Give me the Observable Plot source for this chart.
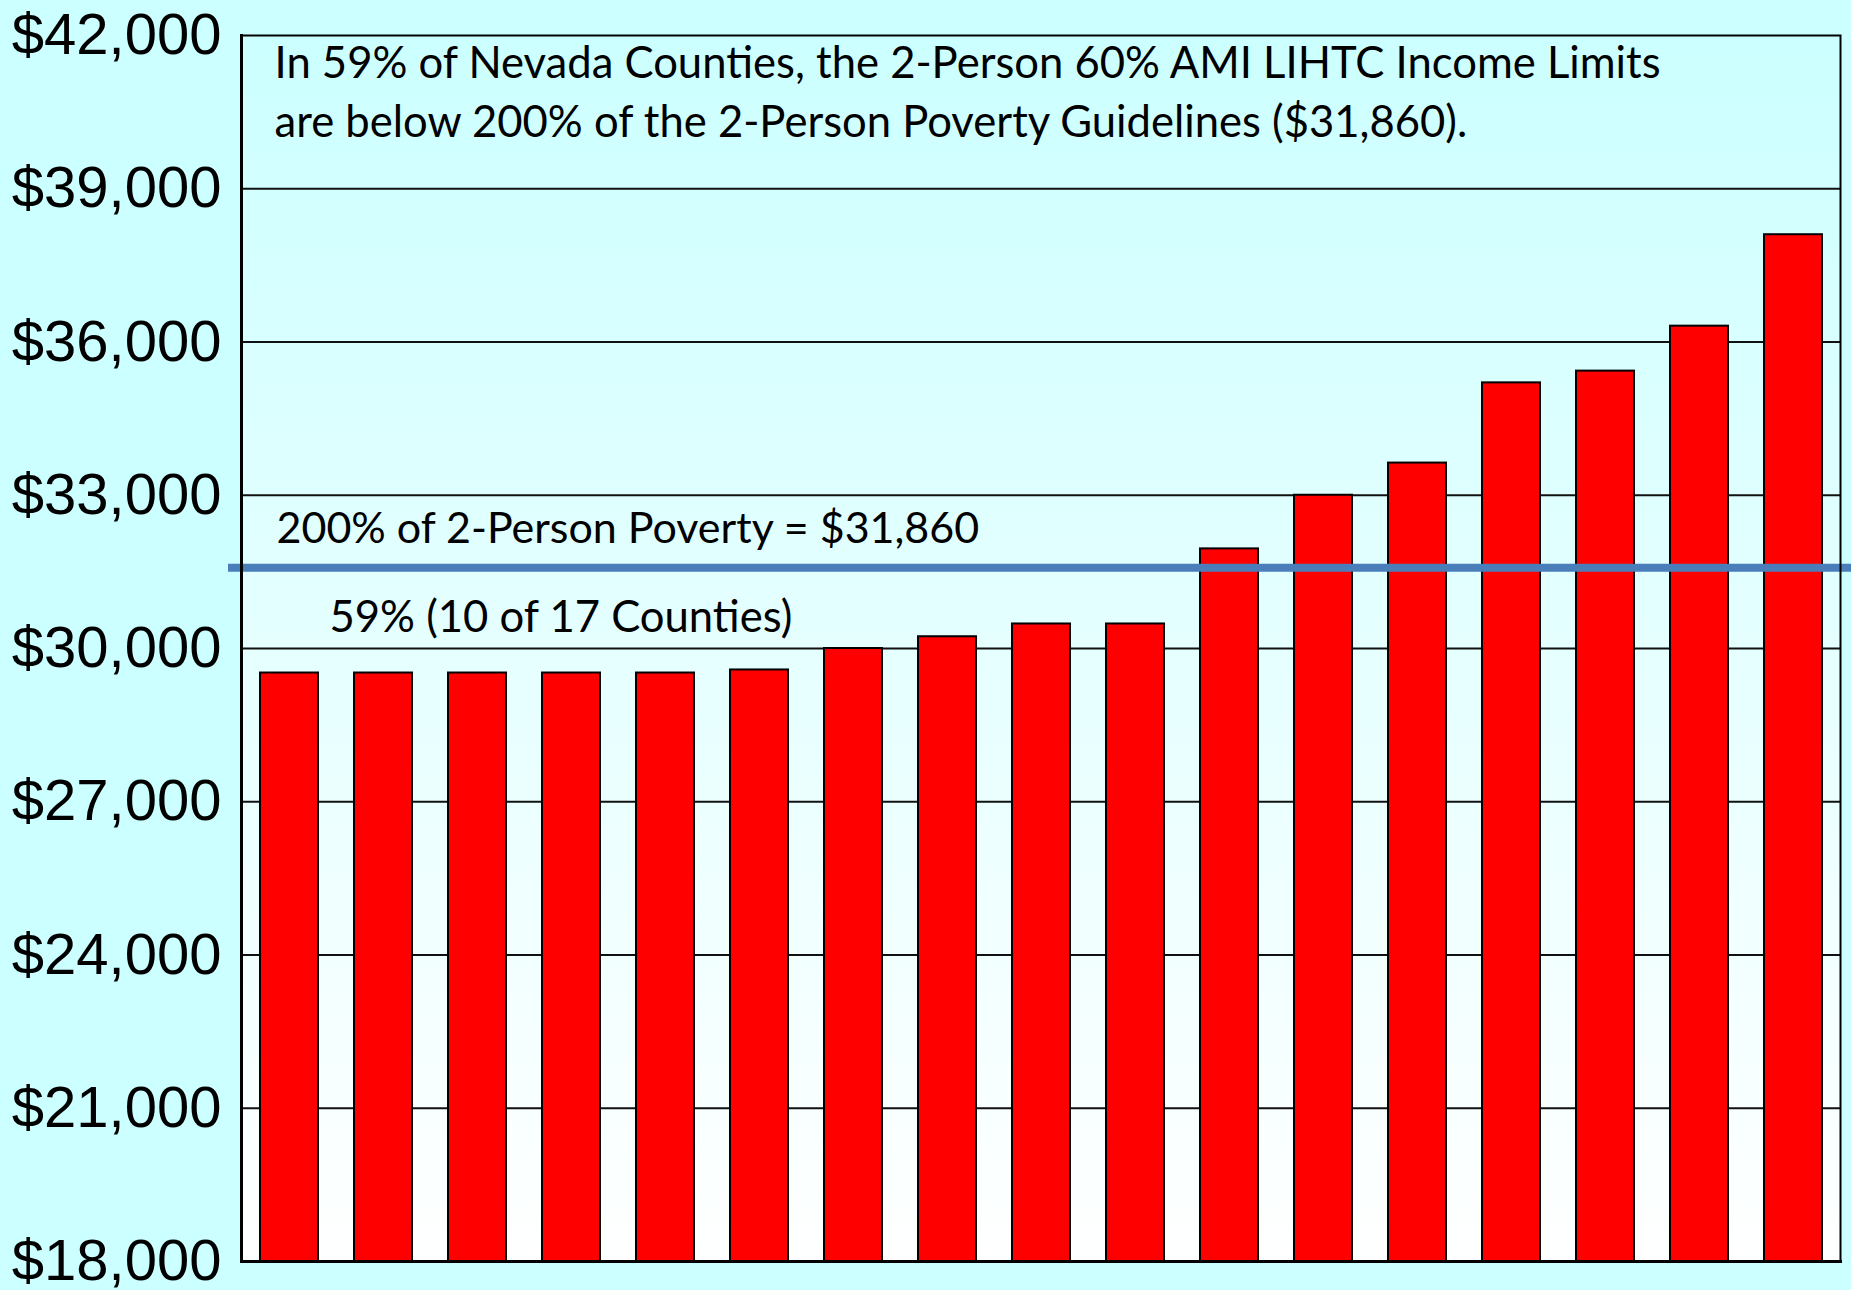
<!DOCTYPE html>
<html><head><meta charset="utf-8">
<script src="https://cdn.jsdelivr.net/npm/d3@7"></script>
<script src="https://cdn.jsdelivr.net/npm/@observablehq/plot@0.6"></script>
<style>
html,body{margin:0;padding:0;background:#CCFFFF;overflow:hidden;}
#chart svg{display:block;}
</style>
</head><body><div id="chart"></div>
<script>
// ---- data ----
const counties = ["County 1","County 2","County 3","County 4","County 5","County 6","County 7","County 8","County 9","County 10","County 11","County 12","County 13","County 14","County 15","County 16","County 17"];
const incomeLimits = [29520, 29520, 29520, 29520, 29520, 29580, 30000, 30230, 30480, 30480, 31950, 33000, 33630, 35200, 35430, 36310, 38100];
const yTicks = [18000, 21000, 24000, 27000, 30000, 33000, 36000, 39000, 42000];
const gridValues = [21000, 24000, 27000, 30000, 33000, 36000, 39000];
const povertyLineDrawn = 31580; // where the reference draws its blue rule
const povertyLabel = "200% of 2-Person Poverty = $31,860";
const shareLabel = "59% (10 of 17 Counties)";
const shareLabelY = 30300;
const titleLines = [
  "In 59% of Nevada Counties, the 2-Person 60% AMI LIHTC Income Limits",
  "are below 200% of the 2-Person Poverty Guidelines ($31,860)."
];

const rows = counties.map((c, i) => ({county: c, value: incomeLimits[i]}));
const noteFont = "Lato, 'Open Sans', sans-serif";

const chart = Plot.plot({
  width: 1851,
  height: 1290,
  marginLeft: 241,
  marginRight: 11,
  marginTop: 35,
  marginBottom: 29,
  style: {background: "#CCFFFF", overflow: "visible"},
  x: {type: "band", domain: counties, paddingInner: 0.385, paddingOuter: 0.1925, axis: null},
  y: {domain: [18000, 42000], axis: null},
  marks: [
    Plot.frame({fill: "url(#bgGrad)", stroke: "none"}),
    Plot.ruleY(gridValues, {stroke: "#111", strokeWidth: 2}),
    Plot.barY(rows, {x: "county", y1: 18000, y2: "value", fill: "#FF0000", stroke: "#000", strokeWidth: 2}),
    Plot.ruleY([povertyLineDrawn], {stroke: "#4A7EBB", strokeWidth: 8, insetLeft: -13, insetRight: -11}),
    Plot.frame({stroke: "#000", strokeWidth: 2}),
    Plot.frame({anchor: "left", stroke: "#000", strokeWidth: 3}),
    Plot.frame({anchor: "bottom", stroke: "#000", strokeWidth: 3}),
    Plot.axisY({ticks: yTicks, tickFormat: d3.format("$,"), tickSize: 0, tickPadding: 20, fontSize: 58, fontFamily: "'Liberation Sans', Arial, sans-serif", fill: "#000", label: null}),
    Plot.text([titleLines.join("\n")], {frameAnchor: "top-left", textAnchor: "start", lineAnchor: "top", dx: 33, dy: 0, fontSize: 43.6, lineHeight: 1.36, fontFamily: noteFont, fill: "#000"}),
    Plot.text([povertyLabel], {y: [povertyLineDrawn], frameAnchor: "left", textAnchor: "start", lineAnchor: "bottom", dx: 35, dy: -25, fontSize: 43, fontFamily: noteFont, fill: "#000"}),
    Plot.text([shareLabel], {y: [shareLabelY], frameAnchor: "left", textAnchor: "start", lineAnchor: "bottom", dx: 88, dy: -1, fontSize: 43.6, fontFamily: noteFont, fill: "#000"})
  ]
});

const s = d3.select(chart);
const defs = s.insert("defs", ":first-child");
const g = defs.append("linearGradient").attr("id", "bgGrad").attr("x1", 0).attr("y1", 0).attr("x2", 0).attr("y2", 1);
g.append("stop").attr("offset", "0%").attr("stop-color", "#CCFFFF");
g.append("stop").attr("offset", "100%").attr("stop-color", "#FFFFFF");

document.getElementById("chart").appendChild(chart);
</script>
</body></html>
